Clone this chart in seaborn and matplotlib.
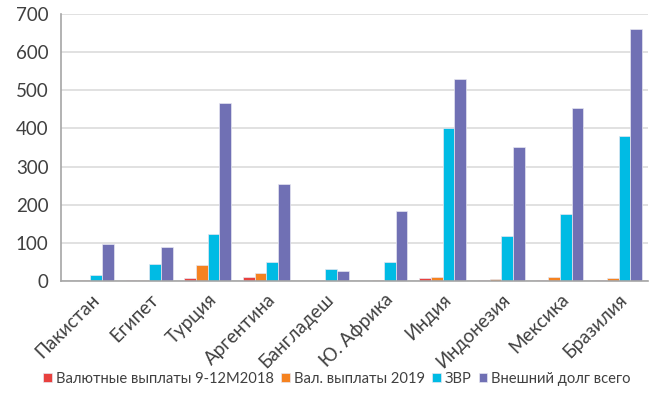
import matplotlib
matplotlib.use('Agg')
import matplotlib.pyplot as plt
import numpy as np
import pandas as pd
import seaborn as sns

countries = ['Пакистан', 'Египет', 'Турция', 'Аргентина', 'Бангладеш',
             'Ю. Африка', 'Индия', 'Индонезия', 'Мексика', 'Бразилия']
series = ['Валютные выплаты 9-12М2018', 'Вал. выплаты 2019', 'ЗВР', 'Внешний долг всего']
pay_2018 = [0.5, 2, 7, 11, 0, 0, 7, 2, 2, 2]
pay_2019 = [2, 3, 43, 20, 0, 2, 10, 5, 11, 8]
reserves = [16, 44, 124, 51, 31, 49, 401, 117, 176, 379]
ext_debt = [96, 88, 467, 253, 27, 183, 530, 352, 454, 660]
colors = ['#E8413E', '#F58220', '#00BBE4', '#7070B4']

df = pd.DataFrame({
    'country': countries * 4,
    'series': [s for s in series for _ in countries],
    'value': pay_2018 + pay_2019 + reserves + ext_debt,
})

sns.set_style('white')
plt.rcParams['font.family'] = ['Lato', 'DejaVu Sans']

fig = plt.figure(figsize=(6.54, 4.17), dpi=100)
ax = fig.add_axes([61 / 654, 1 - 281 / 417, 587 / 654, 267 / 417])

sns.barplot(data=df, x='country', y='value', hue='series', palette=colors,
            saturation=1, width=0.8, gap=0, ax=ax, edgecolor='#e6e6f0', linewidth=0.5)

ax.set_ylim(0, 700)
ax.set_xlim(-0.5, 9.5)
ax.set_yticks(range(0, 701, 100))
ax.yaxis.grid(True, color='#dcdcdc', linewidth=1.2)
ax.set_axisbelow(True)
ax.set_xlabel('')
ax.set_ylabel('')

for s in ['top', 'right']:
    ax.spines[s].set_visible(False)
for s in ['left', 'bottom']:
    ax.spines[s].set_color('#a6a6a6')
    ax.spines[s].set_linewidth(1.2)

ax.tick_params(axis='y', length=0, labelsize=13.5, colors='#404040', pad=9)
ax.tick_params(axis='x', which='major', length=0, labelsize=13.5, colors='#404040', pad=7)
ax.set_xticks(np.arange(-0.5, 10, 1), minor=True)
ax.tick_params(axis='x', which='minor', length=5, color='#a6a6a6', width=1.2)
plt.setp(ax.get_xticklabels(), rotation=45, ha='right', rotation_mode='anchor')

ax.legend(loc='upper center', bbox_to_anchor=(0.47, -0.29), ncol=4, frameon=False,
          fontsize=10.6, handlelength=0.6, handleheight=0.6, handletextpad=0.25,
          columnspacing=0.5, labelcolor='#404040')

fig.savefig('out.png', dpi=100)
